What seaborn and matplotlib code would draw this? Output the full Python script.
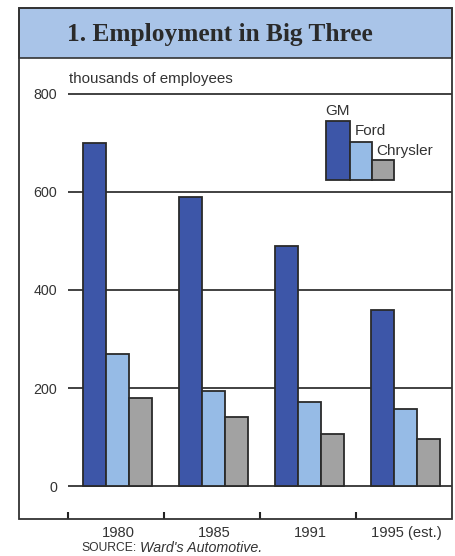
import matplotlib
matplotlib.use("Agg")
import matplotlib.pyplot as plt
import seaborn as sns
import pandas as pd
from matplotlib.patches import Rectangle

years = ["1980", "1985", "1991", "1995 (est.)"]
companies = ["GM", "Ford", "Chrysler"]
gm = [700, 590, 490, 360]
ford = [270, 193, 172, 158]
chrysler = [180, 142, 107, 97]
yticks = [0, 200, 400, 600, 800]

sns.set_theme(style="white")
plt.rcParams['font.family'] = ['Liberation Sans', 'DejaVu Sans']

rows = []
for vals, comp in zip([gm, ford, chrysler], companies):
    for y, v in zip(years, vals):
        rows.append({"year": y, "company": comp, "value": v})
df = pd.DataFrame(rows)

colors = {"GM": "#3d56a8", "Ford": "#96bbe6", "Chrysler": "#a2a2a2"}
edge = "#2a2a2a"
txt = "#333333"

W, H = 456, 556
fig = plt.figure(figsize=(W / 100, H / 100), dpi=100)
fig.patch.set_facecolor("white")

def fx(px):
    return px / W

def fy(py):
    return 1 - py / H

ax = fig.add_axes([fx(68), fy(519), fx(452) - fx(68), fy(58) - fy(519)])
sns.barplot(data=df, x="year", y="value", hue="company", order=years,
            hue_order=companies, palette=colors, width=0.72, gap=0,
            edgecolor=edge, linewidth=1.3, saturation=1, legend=False, ax=ax)
ax.set_facecolor("none")
ax.set_xlim(-0.52, 3.48)
ax.set_ylim(-67, 873)
ax.set_xlabel("")
ax.set_ylabel("")
for s in ax.spines.values():
    s.set_visible(False)
ax.set_axisbelow(True)
ax.set_yticks(yticks)
ax.set_yticklabels([str(t) for t in yticks], fontsize=10.3, color=txt)
ax.tick_params(axis="y", length=0, pad=8)
ax.grid(axis="y", color="#333333", linewidth=1.3)
ax.grid(axis="x", visible=False)

ax.set_xticks([-0.52, 0.48, 1.48, 2.48])
ax.set_xticklabels([])
ax.tick_params(axis="x", which="major", direction="in", length=5, width=1.5,
               color="#222222", bottom=True)
ax.set_xticks([0, 1, 2, 3], minor=True)
ax.set_xticklabels(years, minor=True, fontsize=10.6, color=txt)
ax.tick_params(axis="x", which="minor", length=0, pad=5)

# Title box
fig.add_artist(Rectangle((fx(19), fy(58)), fx(452) - fx(19), fy(8) - fy(58),
                         transform=fig.transFigure, facecolor="#a9c4e8",
                         edgecolor="#333333", linewidth=1.2, zorder=0))
# Outer frame
fig.add_artist(Rectangle((fx(19), fy(519)), fx(452) - fx(19), fy(8) - fy(519),
                         transform=fig.transFigure, facecolor="none",
                         edgecolor="#333333", linewidth=1.3, zorder=5))

fig.text(fx(67), fy(35), "1. Employment in Big Three", fontsize=18.3,
         fontweight="bold", family="Liberation Serif", color="#2a2a2a",
         va="center", ha="left")
fig.text(fx(69), fy(79), "thousands of employees", fontsize=10.9,
         color=txt, va="center", ha="left")

# Legend (mini bars)
legend_h = [59, 38, 20]
lx = [326, 350, 372]
lw_ = [24, 22, 22]
for comp, x0, w, h in zip(companies, lx, lw_, legend_h):
    fig.add_artist(Rectangle((fx(x0), fy(180)), fx(w), h / H,
                             transform=fig.transFigure, facecolor=colors[comp],
                             edgecolor=edge, linewidth=1.3, zorder=6))
fig.text(fx(325), fy(111), "GM", fontsize=11, color=txt, va="center")
fig.text(fx(355), fy(131), "Ford", fontsize=11, color=txt, va="center")
fig.text(fx(376), fy(151), "Chrysler", fontsize=11, color=txt, va="center")

fig.text(fx(81), fy(548), "SOURCE:", fontsize=8.7, color=txt, va="center")
fig.text(fx(140), fy(548), "Ward's Automotive.", fontsize=10.3, style="italic",
         color=txt, va="center")

fig.savefig("out.png", dpi=100)
